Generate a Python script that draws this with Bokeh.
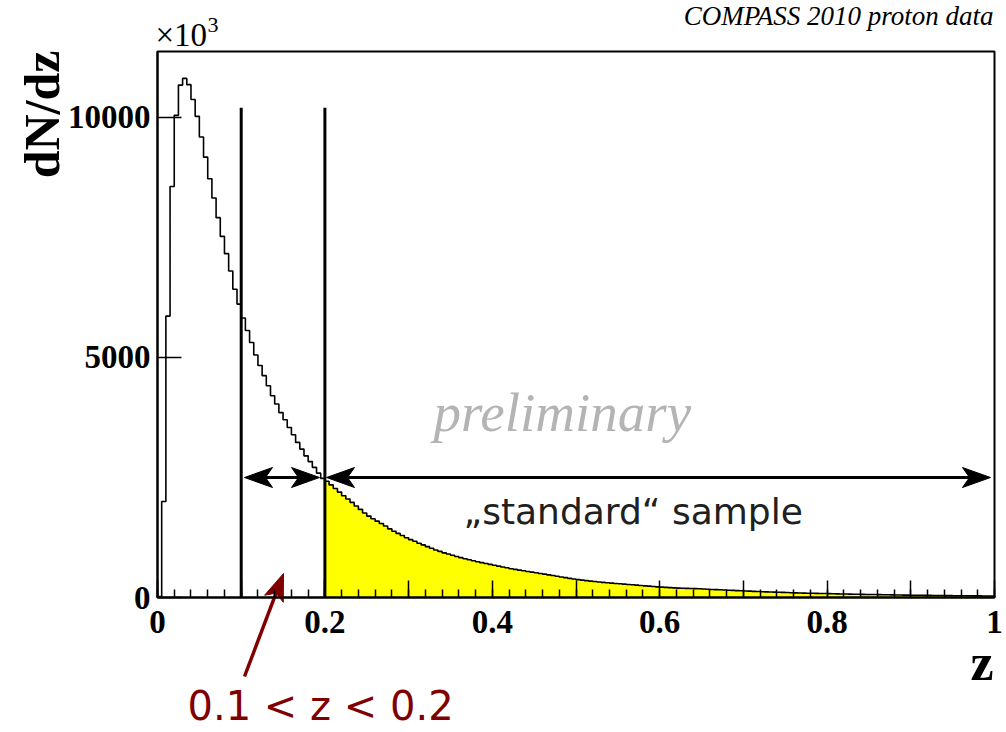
from bokeh.plotting import figure
from bokeh.models import Label, FixedTicker, Range1d
from bokeh.embed import file_html
from bokeh.resources import INLINE
import numpy as np

# ---------------- data ----------------
bin_width = 0.005
n_bins = 200
counts = [
    20, 2000, 5860, 8560, 10040, 10670, 10810, 10680, 10370, 10020,
    9590, 9170, 8720, 8320, 7910, 7520, 7160, 6800, 6420, 6110,
    5820, 5560, 5310, 5050, 4830, 4620, 4410, 4200, 4030, 3850,
    3700, 3540, 3390, 3230, 3090, 2950, 2830, 2710, 2590, 2480,
    2420, 2345, 2270, 2195, 2120, 2050, 1980, 1905, 1835, 1760,
    1695, 1640, 1590, 1540, 1490, 1430, 1380, 1335, 1290, 1245,
    1205, 1170, 1130, 1095, 1060, 1025, 990, 960, 930, 905,
    880, 855, 830, 808, 786, 765, 745, 726, 708, 690,
    672, 654, 636, 618, 600, 585, 570, 556, 542, 528,
    514, 500, 486, 472, 458, 444, 428, 413, 399, 385,
    372, 361, 351, 341, 332, 324, 316, 308, 300, 293,
    286, 279, 271, 264, 257, 250, 243, 236, 229, 222,
    216, 211, 206, 201, 196, 193, 190, 187, 184, 181,
    177, 172, 168, 164, 160, 156, 152, 148, 144, 140,
    136, 132, 128, 124, 121, 118, 115, 112, 109, 106,
    103, 100, 97, 95, 92, 90, 88, 86, 84, 82,
    80, 78, 76, 74, 72, 70, 68, 67, 66, 64,
    63, 61, 60, 58, 56, 55, 53, 52, 50, 49,
    48, 47, 46, 45, 44, 43, 42, 41, 40, 39,
    38, 37, 36, 36, 35, 34, 33, 32, 32, 31,
]
z_cuts = [0.1, 0.2]          # selection boundaries
cut_line_top = 10200
standard_start = 0.2
x_tick_labels = {0: "0", 0.1: "", 0.2: "0.2", 0.3: "", 0.4: "0.4", 0.5: "",
                 0.6: "0.6", 0.7: "", 0.8: "0.8", 0.9: "", 1: "1"}
y_ticks = [0, 5000, 10000]
y_tick_labels = {0: "0", 5000: "5000", 10000: "10000"}
Y_MAX = 11370.0

# ---------------- layout helpers (pixel -> data) ----------------
W, H = 1006, 732
FL, FR, FT, FB = 157, 994, 51, 597

def px_x(px):
    return (px - FL) / (FR - FL)

def px_y(py):
    return (FB - py) * Y_MAX / (FB - FT)

p = figure(width=W, height=H, output_backend="svg", toolbar_location=None,
           x_range=Range1d(px_x(0), px_x(W)), y_range=Range1d(px_y(H), px_y(0)),
           min_border_left=0, min_border_right=0,
           min_border_top=0, min_border_bottom=0)
p.background_fill_color = "white"
p.border_fill_color = "white"
p.outline_line_color = None
p.xgrid.visible = False
p.ygrid.visible = False

vals = np.array(counts, dtype=float)
lo = np.arange(n_bins) * bin_width
hi = lo + bin_width

# yellow "standard" sample as one step-shaped patch
sel = lo >= standard_start - 1e-9
slo, shi, sv = lo[sel], hi[sel], vals[sel]
fx = np.concatenate([[slo[0]], np.ravel(np.column_stack([slo, shi])), [shi[-1]]])
fy = np.concatenate([[0], np.ravel(np.column_stack([sv, sv])), [0]])
p.patch(fx, fy, fill_color="#ffff00", line_color=None)

# histogram outline (steps)
xs = np.concatenate([[0], np.ravel(np.column_stack([lo, hi])), [1]])
ys = np.concatenate([[0], np.ravel(np.column_stack([vals, vals])), [0]])
p.line(xs, ys, line_color="black", line_width=1.6)

# cut lines
p.segment(x0=z_cuts, y0=[0, 0], x1=z_cuts, y1=[cut_line_top] * 2,
          line_color="black", line_width=3)

# frame box
p.quad(left=[0], right=[1], bottom=[0], top=[Y_MAX], fill_color=None,
       line_color="black", line_width=2)

# axes, fixed at the frame edges
p.xaxis.fixed_location = 0
p.yaxis.fixed_location = 0
p.xaxis.bounds = (0, 1)
p.yaxis.bounds = (0, Y_MAX)
p.xaxis.ticker = FixedTicker(ticks=list(x_tick_labels.keys()),
                             minor_ticks=[round(0.02 * i, 2) for i in range(51)])
p.xaxis.major_label_overrides = x_tick_labels
p.yaxis.ticker = FixedTicker(ticks=y_ticks, minor_ticks=[])
p.yaxis.major_label_overrides = y_tick_labels
for ax in (p.xaxis[0], p.yaxis[0]):
    ax.axis_line_color = "black"
    ax.axis_line_width = 2
    ax.major_tick_line_color = "black"
    ax.major_tick_line_width = 1.5
    ax.major_tick_out = 0
    ax.minor_tick_out = 0
    ax.major_label_text_font = "Liberation Serif"
    ax.major_label_text_font_style = "bold"
    ax.major_label_text_font_size = "33px"
    ax.major_label_text_color = "black"
p.xaxis.major_tick_in = 17
p.xaxis.minor_tick_in = 8
p.xaxis.minor_tick_line_color = "black"
p.xaxis.minor_tick_line_width = 1.5
p.xaxis.major_label_standoff = 13
p.yaxis.major_tick_in = 24
p.yaxis.minor_tick_line_color = None
p.yaxis.major_label_standoff = 7

def label(px, py, text, font, size, style="normal", color="black",
          align="left", angle=0.0):
    # px / py give the wanted baseline; shift for bokeh's baseline placement
    s = float(size.replace("px", ""))
    if angle == 0.0:
        py = py - 0.41 * s
    else:
        px = px - 0.41 * s
    p.add_layout(Label(x=px_x(px), y=px_y(py), text=text, text_font=font,
                       text_font_size=size, text_font_style=style,
                       text_color=color, text_align=align,
                       text_baseline="alphabetic", angle=angle))

label(993, 27, "COMPASS 2010 proton data", "Liberation Serif", "27px", "italic",
      align="right")
label(155, 48, "×10", "Liberation Serif", "33px")
label(207, 34, "3", "Liberation Serif", "22px")
label(62, 50, "dN/dz", "Liberation Serif", "50px", "bold", align="right",
      angle=np.pi / 2)
label(993, 683, "z", "Liberation Serif", "52px", "bold", align="right")
label(433, 435, "preliminary", "Liberation Serif", "55px", "italic", color="#b4b4b4")
label(463, 526, "\u201estandard\u201c sample", "DejaVu Sans", "36px", color="#202020")
label(187, 722, "0.1 < z < 0.2", "DejaVu Sans", "40px", color="#800000")

# arrows: shaft + filled notched heads (geometry given in pixels)
def arrow(x0, y0, x1, y1, color, lw, both=False, L=28.0, Wd=20.0, notch=7.0):
    def head(tx, ty, ux, uy):
        nx, ny = -uy, ux
        pts = [(tx, ty),
               (tx - L * ux + Wd / 2 * nx, ty - L * uy + Wd / 2 * ny),
               (tx - (L - notch) * ux, ty - (L - notch) * uy),
               (tx - L * ux - Wd / 2 * nx, ty - L * uy - Wd / 2 * ny)]
        p.patch([px_x(a) for a, b in pts], [px_y(b) for a, b in pts],
                fill_color=color, line_color=color, line_width=1)
        return tx - (L - notch) * ux, ty - (L - notch) * uy
    d = np.hypot(x1 - x0, y1 - y0)
    ux, uy = (x1 - x0) / d, (y1 - y0) / d
    ex, ey = head(x1, y1, ux, uy)
    sx, sy = (head(x0, y0, -ux, -uy) if both else (x0, y0))
    p.segment(x0=[px_x(sx)], y0=[px_y(sy)], x1=[px_x(ex)], y1=[px_y(ey)],
              line_color=color, line_width=lw)

arrow(244, 477, 319, 477, "black", 3, both=True)
arrow(326, 477, 990, 477, "black", 3, both=True)
arrow(244, 676, 283, 573, "#800000", 3.5, L=27, Wd=20, notch=6)

open("out.html", "w").write(file_html(p, INLINE))
